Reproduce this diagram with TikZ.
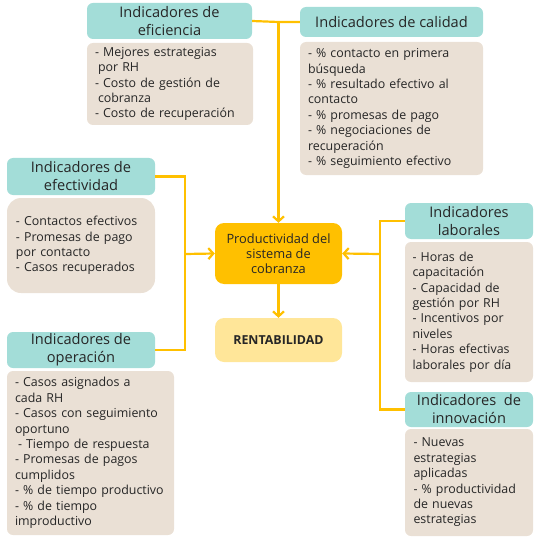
\documentclass[tikz,border=0pt]{standalone}
\usepackage{fontspec}
\setmainfont{Open Sans}
\usetikzlibrary{arrows.meta}
\definecolor{hdr}{HTML}{A3DDD8}
\definecolor{bdy}{HTML}{EAE0D5}
\definecolor{gold}{HTML}{FFC000}
\definecolor{pale}{HTML}{FFE699}
\definecolor{ink}{HTML}{262626}
\tikzset{
  box/.style={rectangle, rounded corners=6pt, inner sep=0pt, text=ink},
  hbox/.style={box, fill=hdr, align=center, font=\fontsize{14.6}{18}\selectfont},
  bbox/.style={box, fill=bdy, align=left, font=\fontsize{12.4}{15.4}\selectfont},
  conn/.style={draw=gold, line width=2.2pt},
  arr/.style={conn, -{Straight Barb[length=5pt,width=11pt,line width=2.2pt]}},
}
\begin{document}
\begin{tikzpicture}[x=1pt,y=-1pt]
\useasboundingbox (0,0) rectangle (538,540);
% headers
\node[hbox, minimum width=165, minimum height=36] (effH) at (169.5,21) {Indicadores de\\eficiencia};
\node[hbox, minimum width=183, minimum height=30] (calH) at (391.5,22) {Indicadores de calidad};
\node[hbox, minimum width=148, minimum height=37] (efvH) at (81,176.5) {Indicadores de\\efectividad};
\node[hbox, minimum width=148, minimum height=36] (opH) at (81,350) {Indicadores de\\operación};
\node[hbox, minimum width=128, minimum height=36] (labH) at (469,221) {Indicadores\\laborales};
\node[hbox, minimum width=128, minimum height=35] (innH) at (469,409.5) {Indicadores\ \ de\\innovación};
% bodies
\node[bbox, minimum width=166, minimum height=82, text width=150] (effB) at (170,84)
 {- Mejores estrategias\\\hspace*{3pt}por RH\\- Costo de gestión de\\\hspace*{3pt}cobranza\\- Costo de recuperación};
\node[bbox, minimum width=183, minimum height=133, text width=167] (calB) at (391.5,108.5)
 {- \% contacto en primera\\búsqueda\\- \% resultado efectivo al\\contacto\\- \% promesas de pago\\- \% negociaciones de\\recuperación\\- \% seguimiento efectivo};
\node[bbox, rounded corners=14pt, minimum width=148, minimum height=95, text width=130] (efvB) at (81,245.5)
 {- Contactos efectivos\\- Promesas de pago\\por contacto\\- Casos recuperados};
\node[bbox, minimum width=167, minimum height=164, text width=151] (opB) at (90.5,453)
 {- Casos asignados a\\cada RH\\- Casos con seguimiento\\oportuno\\\hspace*{3pt}- Tiempo de respuesta\\- Promesas de pagos\\cumplidos\\- \% de tiempo productivo\\- \% de tiempo\\improductivo};
\node[bbox, minimum width=128, minimum height=140, text width=113] (labB) at (469,312)
 {- Horas de\\capacitación\\- Capacidad de\\gestión por RH\\- Incentivos por\\niveles\\- Horas efectivas\\laborales por día};
\node[bbox, minimum width=128, minimum height=107, text width=111] (innB) at (469,482.5)
 {- Nuevas\\estrategias\\aplicadas\\- \% productividad\\de nuevas\\estrategias};
% center
\node[box, rounded corners=9pt, fill=gold, minimum width=127, minimum height=61, align=center, font=\fontsize{12.8}{15}\selectfont] (cen) at (278.5,253.5) {Productividad del\\sistema de\\cobranza};
\node[box, rounded corners=9pt, fill=pale, minimum width=127, minimum height=44, font=\fontsize{12.4}{15}\selectfont\bfseries] (rent) at (278.5,340) {RENTABILIDAD};
% connectors
\coordinate (jt) at (cen.north |- calH.west);
\coordinate (jl) at (185,254);
\coordinate (jr) at (380,254);
\draw[conn] (effH.east) -- (jt) -- (calH.west);
\draw[arr] (jt) -- (cen.north);
\draw[conn] (efvH.east) -| (jl) |- (opH.east);
\draw[arr] (jl) -- (cen.west);
\draw[conn] (labH.west) -| (jr) |- (innH.west);
\draw[arr] (jr) -- (cen.east);
\draw[arr] (cen.south) -- (rent.north);
\end{tikzpicture}
\end{document}
